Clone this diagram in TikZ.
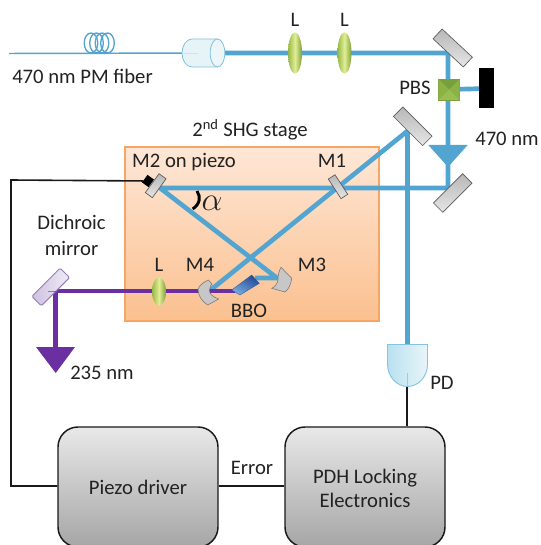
\documentclass[tikz,border=0pt]{standalone}
\usepackage{fontspec}
\setmainfont{Carlito}
\usetikzlibrary{shapes.geometric,calc}
\definecolor{beamblue}{HTML}{52A5D0}
\definecolor{uvpurple}{HTML}{6A2FA0}
\definecolor{txt}{HTML}{222222}
\definecolor{stageedge}{RGB}{247,165,100}
\definecolor{stagetop}{RGB}{254,231,214}
\definecolor{stagebot}{RGB}{251,192,143}
\definecolor{collfill}{RGB}{230,243,247}
\definecolor{collend}{RGB}{236,246,249}
\definecolor{colledge}{RGB}{130,190,222}
\definecolor{collcore}{RGB}{205,228,238}
\definecolor{dedge}{RGB}{150,125,185}
\definecolor{dleft}{RGB}{205,193,222}
\definecolor{dright}{RGB}{240,236,246}
\definecolor{bboa}{RGB}{35,75,150}
\definecolor{bbob}{RGB}{120,170,225}
\definecolor{bboe}{RGB}{50,90,160}
\definecolor{pbsa}{RGB}{120,160,60}
\definecolor{pbsb}{RGB}{115,155,55}
\definecolor{pbse}{RGB}{125,155,65}
\definecolor{pbsc}{RGB}{140,178,70}
\definecolor{pbsd}{RGB}{152,190,82}
\definecolor{pda}{RGB}{185,225,240}
\definecolor{pdb}{RGB}{232,245,248}
\definecolor{pde}{RGB}{135,195,225}
\definecolor{lensa}{RGB}{150,185,70}
\definecolor{lensb}{RGB}{226,238,150}
\definecolor{lensc}{RGB}{125,160,55}
\tikzset{
  beam/.style={draw=beamblue,line width=3.5pt},
  uv/.style={draw=uvpurple,line width=3.5pt},
  wire/.style={draw=black!90,line width=1.2pt},
  fiber/.style={draw=beamblue,line width=1.1pt},
  lbl/.style={font=\fontsize{15.5}{18}\selectfont,text=txt,inner sep=0pt,align=center},
  mirror/.style={draw=black!65,line width=.5pt,left color=black!28,right color=black!10,shading angle=0,inner sep=0pt},
  lens/.style={ellipse,inner sep=0pt,minimum width=10.5pt,minimum height=31pt,draw=none,left color=lensa,right color=lensc,middle color=lensb},
  ctrl/.style={draw=black!90,line width=1.1pt,rounded corners=15pt,minimum width=120pt,minimum height=90pt,top color=black!9,bottom color=black!35,inner sep=0pt},
}
\begin{document}
\begin{tikzpicture}[x=0.75pt,y=-0.75pt]
\clip (0,0) rectangle (541,545);
% coordinates of the optical path
\coordinate (fibStart) at (9,53.5);
\coordinate (colC) at (217.5,53);
\coordinate (topM) at (448,53);
\coordinate (lowM) at (448,188);
\coordinate (pbsC) at (449,89.5);
\coordinate (m1C) at (338,187);
\coordinate (m2C) at (160,188);
\coordinate (foldM) at (407.5,131);
\coordinate (m4C) at (210,290.5);
\coordinate (m3C) at (277,278);
\coordinate (bboA) at (255,278);
\coordinate (bboB) at (235,291);
\coordinate (dichC) at (55.5,291);
\coordinate (uvEnd) at (55.5,350);
\coordinate (blockC) at (486.5,88.5);
% stage
\node[name=stage,minimum width=190.5pt,minimum height=130.5pt,inner sep=0pt,draw=stageedge,line width=1.3pt,top color=stagetop,bottom color=stagebot] at (252,234) {};
% fiber
\draw[fiber] (fibStart) -- (colC);
\foreach \cx [count=\i] in {91,96.5,102,107.5}
  \draw[draw=beamblue,line width=1pt] (\cx,43) ellipse [x radius=6.8,y radius=10];
% beams
\draw[beam] (colC) -- (topM) -- (lowM) -- (m2C) -- (m3C) -- (bboA);
\draw[beam] (foldM) -- (m4C);
\draw[beam] (pbsC) -- (blockC);
\coordinate (pdTop) at (407.5,346);
\draw[beam] (foldM) -- (pdTop);
\draw[uv] (bboB) -- (dichC) -- (uvEnd);
% arrows
\fill[beamblue] (428.3,145) -- (467.7,145) -- (448,167) -- cycle;
\fill[uvpurple] (36,347) -- (75,347) -- (55.7,373) -- cycle;
% collimator
\path[fill=collfill,draw=colledge,line width=.6pt]
  (217.5,39) -- (192,39) .. controls (186,39) and (182,46) .. (182,53) .. controls (182,60) and (186,67) .. (192,67) -- (217.5,67);
\draw[collcore,line width=.6pt] (182,53) -- (198,53);
\node[name=coll,ellipse,minimum width=11pt,minimum height=21pt,inner sep=0pt,fill=collend,draw=colledge,line width=.6pt] at (colC) {};
% lenses
\node[lens,name=L1] at (295,53) {};
\node[lens,name=L2] at (344.5,53) {};
\node[lens,name=L3,minimum height=21pt] at (159,291.5) {};
% mirrors
\node[mirror,name=mTop,rotate=-43,minimum width=31pt,minimum height=10pt] at (452.7,48) {};
\node[mirror,name=mLow,rotate=45,minimum width=31pt,minimum height=10pt] at (452.7,193) {};
\node[mirror,name=mFold,rotate=-45,minimum width=31pt,minimum height=10pt] at (412.7,126.3) {};
\node[mirror,name=mOne,rotate=-57,minimum width=17.5pt,minimum height=6pt] at (338,186.7) {};
\node[name=pzt,fill=black,rotate=54,minimum width=7pt,minimum height=6pt,inner sep=0pt] at (148,181) {};
\node[mirror,name=mTwo,rotate=54,minimum width=17.5pt,minimum height=6.5pt] at (155.7,185.7) {};
\node[name=dich,rotate=45,minimum width=30pt,minimum height=10pt,inner sep=0pt,rounded corners=1pt,draw=dedge,line width=.7pt,left color=dleft,right color=dright] at (50.7,287) {};
\draw[uvpurple,line width=.5pt,opacity=.6] (48,291) -- (dichC);
% curved mirrors
\path[draw=black!55,line width=.4pt,fill=black!22]
  (208.3,280) .. controls (200,284) and (197,288) .. (198.3,292) .. controls (199,297) and (203,302) .. (207.7,305)
  -- (218.7,299) .. controls (213,297) and (209,294) .. (209.5,290) .. controls (209.5,287) and (211,285) .. (212,284) -- cycle;
\path[draw=black!55,line width=.4pt,fill=black!22]
  (281,267.3) -- (291.7,278.3) .. controls (291,284) and (289,289) .. (285,292) -- (271.7,288.3)
  .. controls (275,287) and (278,283) .. (278,279) .. controls (278,275) and (279,271) .. (281,267.3) -- cycle;
% BBO
\path[left color=bboa,right color=bbob,shading angle=-30,draw=bboe,line width=.3pt]
  (231.7,290) -- (251.7,275) -- (259.3,283.3) -- (240,295) -- cycle;
\coordinate (bboC) at (245,285);
% PBS
\node[name=pbs,minimum width=15.5pt,minimum height=15.5pt,inner sep=0pt,top color=pbsa,bottom color=pbsb,draw=pbse,line width=.4pt] at (449,89.5) {};
\fill[pbsc] (pbs.north west) -- (pbs.center) -- (pbs.south west) -- cycle;
\fill[pbsc] (pbs.north east) -- (pbs.center) -- (pbs.south east) -- cycle;
\fill[pbsd] (pbs.south west) -- (pbs.center) -- (pbs.south east) -- cycle;
% beam block
\node[name=block,fill=black,minimum width=11pt,minimum height=30pt,inner sep=0pt] at (blockC) {};
% photodiode
\path[left color=pda,right color=pdb,draw=pde,line width=.7pt]
  (387.5,344.5) -- (427.5,344.5) -- (427.5,364) .. controls (427.5,377) and (418,386.5) .. (407.5,386.5) .. controls (397,386.5) and (387.5,377) .. (387.5,364) -- cycle;
\draw[black!25,line width=.6pt] (407.5,373) -- (407.5,386);
\coordinate (pdOut) at (407,387);
% electronics
\node[ctrl,name=drv] at (138,487) {};
\node[ctrl,name=pdh] at (365,487) {};
% wires
\coordinate (wireCorner) at (11,180);
\coordinate (wireLow) at (11,486);
\draw[wire] (pzt) -- (wireCorner) -- (wireLow) -- (wireLow -| drv.west);
\draw[wire] (drv.east |- wireLow) -- (pdh.west |- wireLow);
\draw[wire] (pdOut) -- (pdOut |- pdh.north);
% alpha mark
\coordinate (alA) at (197,191);
\coordinate (alB) at (192.7,209);
\draw[black,line width=2.2pt] (alA) .. controls (201,197) and (200,204) .. (alB);
% labels
\node[lbl,anchor=west,name=tFiber] at (12,76) {470 nm PM fiber};
\node[lbl,name=tL1] at (295,20) {L};
\node[lbl,name=tL2] at (344.5,20) {L};
\node[lbl,name=tPBS] at (415,88) {PBS};
\node[lbl,name=t470] at (507,139) {470 nm};
\node[lbl,name=tStage] at (250,130) {2\textsuperscript{nd} SHG stage};
\node[lbl,name=tM2] at (184,162) {M2 on piezo};
\node[lbl,name=tM1] at (332,161) {M1};
\node[lbl,name=tAlpha,font=\fontsize{23}{26}\selectfont] at (212,203) {$\alpha$};
\node[lbl,name=tDich] at (71.5,235) {Dichroic\\[1.5pt]mirror};
\node[lbl,name=tL3] at (159,265) {L};
\node[lbl,name=tM4] at (200,265) {M4};
\node[lbl,name=tM3] at (312,265) {M3};
\node[lbl,name=tBBO] at (249,311) {BBO};
\node[lbl,name=t235] at (102,373) {235 nm};
\node[lbl,name=tPD] at (442,383) {PD};
\node[lbl,name=tErr] at (252,468) {Error};
\node[lbl,name=tDrv] at (138,487) {Piezo driver};
\node[lbl,name=tPdh] at (365,488) {PDH Locking\\Electronics};
\end{tikzpicture}
\end{document}
